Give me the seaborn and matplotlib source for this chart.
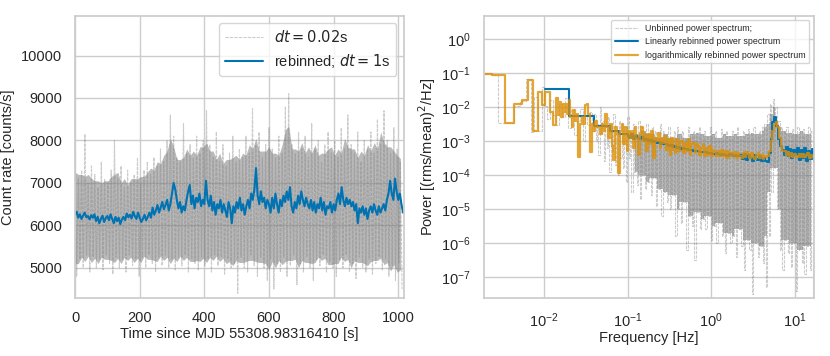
import numpy as np
import pandas as pd
import seaborn as sns
import matplotlib
matplotlib.use("Agg")
import matplotlib.pyplot as plt

# ---- light curve (left) ----
# 1 s rebinned count rate, one value every 5 s starting at t=0
lc_step = 5
lc_rebinned = [
    6250, 6320, 6180, 6260, 6150, 6230, 6300, 6190, 6220, 6140,
    6240, 6180, 6260, 6100, 6200, 6050, 6150, 6230, 6080, 6170,
    6220, 6120, 6260, 6150, 6050, 6200, 6100, 6180, 6030, 6140,
    6200, 6120, 6280, 6190, 6250, 6160, 6320, 6220, 6150, 6300,
    6180, 6080, 6150, 6250, 6120, 6200, 6300, 6180, 6420, 6250,
    6350, 6480, 6300, 6420, 6550, 6380, 6480, 6600, 6350, 6500,
    6750, 7000, 6850, 6600, 6400, 6550, 6300, 6450, 6350, 6600,
    6800, 6950, 6500, 6700, 6400, 6650, 6550, 6750, 6450, 6600,
    6500, 7050, 6600, 6450, 6700, 6350, 6550, 6250, 6500, 6400,
    6600, 6300, 6500, 6350, 6200, 6550, 6400, 6050, 6450, 6300,
    6550, 6400, 6650, 6350, 6500, 6250, 6450, 6600, 6400, 6750,
    6600, 6850, 7350, 6700, 6500, 6800, 6550, 6650, 6400, 6600,
    6500, 6300, 6650, 6400, 6750, 6500, 6300, 6600, 6450, 6700,
    6550, 6800, 6600, 6900, 6450, 6300, 6550, 6400, 6700, 6500,
    6800, 6600, 6450, 6650, 6500, 6400, 6600, 6350, 6550, 6300,
    6500, 6400, 6650, 6350, 6550, 6250, 6450, 6400, 6550, 6300,
    6500, 6350, 6600, 6750, 6500, 6900, 6600, 6450, 6650, 6500,
    6600, 6450, 6550, 6350, 6500, 6050, 6400, 6300, 6450, 6250,
    6400, 6150, 6350, 6450, 6300, 6500, 6350, 6250, 6450, 6300,
    6400, 6500, 6350, 6600, 6750, 7050, 6750, 6600, 7100, 6800,
    6600, 6750, 6500, 6300,
]

# dt=0.02 s curve: spike tops / bottoms of the dense band (100 samples over 0-1017 s)
lc_tmax = 1017
lc_raw_top = [
    7700, 7100, 7300, 8150, 7000, 7400, 7200, 6900, 7500, 7100,
    7000, 7300, 8000, 7100, 7400, 6900, 7300, 7000, 7200, 7600,
    7000, 7300, 7500, 7200, 7600, 7400, 7800, 7500, 8000, 8600,
    8100, 7600, 7500, 8400, 7700, 7900, 7600, 8100, 7700, 8000,
    8700, 7900, 7600, 8200, 7500, 7900, 7400, 7700, 8100, 7500,
    7800, 7600, 8100, 7700, 8750, 7900, 8200, 7600, 7900, 8300,
    7800, 7600, 8100, 7700, 8800, 9100, 7900, 7700, 8200, 7800,
    8100, 7600, 8400, 7800, 8000, 7500, 7900, 8200, 7700, 8000,
    7600, 8300, 7800, 8600, 7900, 7700, 8200, 7500, 8000, 7800,
    8200, 7700, 8500, 7900, 8700, 8000, 7700, 8300, 7800, 7500,
]
lc_raw_bottom = [
    4800, 5200, 5000, 5300, 4900, 5250, 5000, 5200, 4950, 5300,
    5100, 4850, 5250, 5000, 5200, 4900, 5300, 5050, 5200, 4800,
    5250, 5000, 5300, 5100, 4900, 5250, 5050, 5300, 5000, 5200,
    4950, 5250, 5050, 5300, 4900, 5200, 5100, 4950, 5250, 5050,
    5200, 4900, 5300, 5050, 5250, 4850, 5200, 5000, 5100, 4400,
    5250, 5000, 4900, 5300, 5050, 4800, 5250, 5000, 4700, 5200,
    4500, 5100, 4900, 5250, 4800, 5050, 5300, 4600, 5100, 4900,
    5250, 5000, 4700, 5200, 5050, 5300, 4900, 5150, 5000, 4800,
    5200, 5000, 5300, 4900, 5100, 4750, 5250, 5000, 4900, 5200,
    4850, 5100, 5250, 4950, 5200, 4800, 5050, 4700, 5100, 4500,
]

# ---- power spectrum (right) ----
# unbinned spectrum below 0.04 Hz (step values)
ps_low_freq = [0.00196, 0.00239, 0.00287, 0.00339, 0.00441, 0.00520, 0.00610,
               0.00700, 0.00760, 0.00848, 0.00946, 0.0100, 0.0108, 0.0119,
               0.0128, 0.0139, 0.0150, 0.0165, 0.0180, 0.0195, 0.0210, 0.0230,
               0.0250, 0.0270, 0.0290, 0.0310, 0.0330, 0.0355, 0.0380]
ps_low_power = [0.095, 0.087, 3.5e-3, 3.5e-3, 0.011, 0.015, 0.068, 1.9e-3,
                0.020, 2.0e-3, 0.040, 0.011, 4.5e-3, 0.016, 6.0e-3, 3.0e-3,
                0.012, 5.0e-3, 0.018, 2.5e-3, 8e-3, 1.5e-3, 4e-3, 9e-3, 1e-3,
                6e-3, 3e-3, 7e-3, 2e-3]
# unbinned spectrum 0.04-17 Hz: log10 of spike tops / bottoms (80 log-spaced samples)
ps_fmin, ps_fmax = 0.04, 16.9
ps_top_log = [
    -2.2, -2.5, -2.0, -2.4, -2.6, -2.3, -2.5, -2.2, -2.7, -2.4,
    -2.5, -2.6, -2.3, -2.7, -2.5, -2.8, -2.4, -2.6, -2.7, -2.5,
    -2.8, -2.6, -2.7, -2.9, -2.5, -2.7, -2.8, -2.6, -2.9, -2.7,
    -2.6, -2.8, -2.7, -2.9, -2.6, -2.8, -2.7, -2.75, -2.6, -2.8,
    -2.7, -2.85, -2.6, -2.8, -2.7, -2.9, -2.65, -2.8, -2.7, -2.85,
    -2.7, -2.8, -2.6, -2.85, -2.7, -2.8, -2.65, -2.75, -2.6, -2.8,
    -2.7, -2.6, -2.5, -2.2, -1.9, -1.75, -2.0, -2.4, -2.6, -2.7,
    -2.6, -2.75, -2.65, -2.8, -2.6, -2.7, -2.65, -2.8, -2.6, -2.7,
]
ps_bottom_log = [
    -3.0, -3.4, -2.8, -3.6, -3.2, -3.9, -3.3, -3.7, -4.0, -3.5,
    -3.8, -4.2, -3.5, -4.5, -3.9, -4.3, -4.7, -4.0, -4.4, -4.2,
    -4.6, -4.1, -4.9, -4.4, -5.2, -4.5, -4.8, -5.0, -4.6, -5.8,
    -5.0, -5.4, -4.8, -6.2, -5.2, -5.5, -6.5, -5.1, -5.6, -5.3,
    -5.6, -5.2, -5.9, -5.5, -6.0, -5.4, -5.8, -6.3, -5.7, -6.0,
    -5.8, -6.4, -5.6, -6.1, -6.8, -5.9, -6.2, -7.5, -6.0, -6.4,
    -6.1, -6.6, -7.3, -5.8, -4.5, -3.8, -5.0, -6.2, -6.8, -5.9,
    -6.3, -6.7, -6.0, -7.4, -6.2, -6.6, -6.9, -6.1, -6.8, -7.6,
]
ps_fill_from = 0.12  # below this the unbinned spectrum is sparse, no solid band

# linearly rebinned spectrum: wide low-frequency bins, then log10 values 0.1-17 Hz
lin_low_freq = [0.0103, 0.020, 0.0395, 0.0616, 0.080]
lin_low_power = [0.034, 5.5e-3, 2.8e-3, 2.0e-3, 1.6e-3]
lin_fmin = 0.1
lin_log = [
    -2.85, -2.9, -2.8, -2.95, -2.85, -2.9, -2.95, -2.88, -2.92, -2.97,
    -2.95, -3.0, -2.97, -3.02, -3.0, -3.05, -3.03, -3.08, -3.06, -3.1,
    -3.1, -3.12, -3.15, -3.13, -3.17, -3.16, -3.2, -3.18, -3.22, -3.21,
    -3.24, -3.22, -3.26, -3.27, -3.25, -3.29, -3.3, -3.28, -3.31, -3.32,
    -3.33, -3.31, -3.35, -3.36, -3.34, -3.37, -3.38, -3.36, -3.39, -3.4,
    -3.38, -3.41, -3.4, -3.43, -3.39, -3.42, -3.44, -3.4, -3.43, -3.45,
    -3.4, -3.52, -3.38, -3.55, -3.42, -3.5, -3.58, -3.4, -3.53, -3.56,
    -3.45, -3.6, -3.5, -3.58, -3.62, -3.35, -2.95, -2.45, -2.28, -2.55,
    -2.95, -3.15, -3.25, -3.4, -3.18, -3.45, -3.22, -3.5, -3.25, -3.42,
    -3.2, -3.55, -3.25, -3.5, -3.2, -3.6, -3.3, -3.52, -3.22, -3.62,
]

# logarithmically rebinned spectrum: wide low-frequency bins, then log10 values 0.018-17 Hz
log_low_freq = [0.00196, 0.00239, 0.00339, 0.00441, 0.00546, 0.00644, 0.00732,
                0.00848, 0.00946, 0.01037, 0.0119, 0.0128, 0.0139, 0.0146,
                0.0153, 0.0160, 0.0168, 0.0174]
log_low_power = [0.095, 0.087, 3.5e-3, 0.012, 0.016, 0.063, 2.0e-3, 0.027,
                 0.0115, 0.027, 7.3e-3, 3.0e-3, 0.018, 6e-3, 0.014, 5e-3,
                 0.012, 7e-3]
logbin_fmin = 0.018
logbin_log = [
    -1.9, -2.2, -1.8, -2.3, -2.6, -2.1, -2.4, -2.2, -3.46, -2.5,
    -2.3, -2.5, -1.95, -1.91, -2.2, -3.32, -2.5, -2.7, -2.4, -2.6,
    -2.6, -2.8, -2.5, -2.7, -2.2, -2.6, -2.9, -2.5, -3.15, -3.55,
    -2.6, -2.8, -3.95, -2.7, -2.5, -3.1, -2.6, -3.3, -2.7, -2.9,
    -2.7, -3.2, -2.6, -2.9, -3.4, -2.75, -2.6, -3.0, -2.8, -3.3,
    -2.8, -3.1, -2.7, -3.5, -2.9, -3.0, -2.75, -3.2, -2.9, -3.05,
    -2.85, -3.25, -2.95, -3.4, -2.9, -3.25, -3.35, -2.95, -3.3, -3.0,
    -3.0, -3.35, -3.05, -3.3, -2.95, -3.4, -3.1, -3.05, -3.35, -3.1,
    -3.15, -3.4, -3.2, -3.1, -3.45, -3.2, -3.4, -3.15, -3.45, -3.25,
    -3.3, -3.45, -3.3, -3.45, -3.25, -3.45, -3.3, -3.5, -3.3, -3.45,
    -3.35, -3.45, -3.32, -3.5, -3.35, -3.45, -3.5, -3.35, -3.48, -3.33,
    -3.38, -3.5, -3.36, -3.47, -3.52, -3.4, -3.36, -3.5, -3.4, -3.52,
    -3.45, -3.48, -3.44, -3.3, -3.0, -2.7, -2.5, -2.43, -2.6, -2.9,
    -3.15, -3.3, -3.3, -3.42, -3.33, -3.45, -3.35, -3.47, -3.38, -3.43,
    -3.47, -3.37, -3.48, -3.38, -3.47, -3.4, -3.36, -3.5, -3.4, -3.47,
    -3.43,
]


def zigzag(x0, x1, top, bottom, log=False):
    # alternate top/bottom samples so the dense curve renders as a band
    n = len(top)
    if log:
        xs = np.geomspace(x0, x1, n + 1)
        mid = np.sqrt(xs[:-1] * xs[1:])
    else:
        xs = np.linspace(x0, x1, n + 1)
        mid = 0.5 * (xs[:-1] + xs[1:])
    x = np.empty(2 * n)
    y = np.empty(2 * n)
    x[0::2] = xs[:-1]
    x[1::2] = mid
    y[0::2] = top
    y[1::2] = bottom
    return x, y, xs[:-1]


def core(top, bottom, soft=False):
    # solid part of the band: where neighbouring samples overlap
    t = pd.Series(top).rolling(3, center=True, min_periods=1)
    b = pd.Series(bottom).rolling(3, center=True, min_periods=1)
    hi, lo = t.min().values, b.max().values
    if soft:
        hi = 0.5 * (hi + t.median().values)
        lo = 0.5 * (lo + b.median().values)
    return hi, lo


sns.set_theme(style="whitegrid", palette="colorblind")
plt.rcParams["font.family"] = ["Liberation Sans", "DejaVu Sans"]
plt.rcParams["font.size"] = 10
plt.rcParams["axes.labelsize"] = 10.5
plt.rcParams["xtick.labelsize"] = 10.5
plt.rcParams["ytick.labelsize"] = 10.5

pal = sns.color_palette("colorblind")
blue, orange = pal[0], pal[1]

fig = plt.figure(figsize=(8.3, 3.56), dpi=100)
ax1 = fig.add_axes([0.0904, 0.163, 0.396, 0.792])
ax2 = fig.add_axes([0.583, 0.163, 0.3976, 0.792])

# left panel
tx, ty, tgrid = zigzag(0, lc_tmax, lc_raw_top, lc_raw_bottom)
c_hi, c_lo = core(lc_raw_top, lc_raw_bottom, soft=True)
ax1.fill_between(tgrid, c_lo, c_hi, color="grey", alpha=0.55, lw=0)
sns.lineplot(x=tx, y=ty, ax=ax1, color="grey", alpha=0.4, lw=0.8,
             linestyle=(0, (3, 1)), sort=False, estimator=None,
             label="$dt = 0.02$s")
t_reb = np.arange(len(lc_rebinned)) * lc_step
sns.lineplot(x=t_reb, y=lc_rebinned, ax=ax1, color=blue, lw=1.5,
             sort=False, estimator=None, label="rebinned; $dt = 1$s")
ax1.set_xlim(0, lc_tmax)
ax1.set_ylim(4290, 10930)
ax1.set_xticks([0, 200, 400, 600, 800, 1000])
ax1.set_yticks([5000, 6000, 7000, 8000, 9000, 10000])
ax1.set_xlabel("Time since MJD 55308.98316410 [s]", labelpad=1)
ax1.set_ylabel("Count rate [counts/s]")
ax1.legend(loc="upper right", fontsize=10.5, handlelength=2.6)

# right panel
fz, pz, fgrid = zigzag(ps_fmin, ps_fmax, ps_top_log, ps_bottom_log, log=True)
p_hi, p_lo = core(ps_top_log, ps_bottom_log)
dense = fgrid >= ps_fill_from
ax2.fill_between(fgrid[dense], 10.0 ** p_lo[dense], 10.0 ** p_hi[dense],
                 color="grey", alpha=0.55, lw=0, step="post")
grey_f = np.concatenate([ps_low_freq, fz])
grey_p = np.concatenate([ps_low_power, 10.0 ** pz])
sns.lineplot(x=grey_f, y=grey_p, ax=ax2, color="grey", alpha=0.4, lw=0.8,
             linestyle=(0, (3, 1)), drawstyle="steps-post", sort=False,
             estimator=None, label="Unbinned power spectrum;")

lin_f = np.concatenate([lin_low_freq, np.geomspace(lin_fmin, ps_fmax, len(lin_log))])
lin_p = np.concatenate([lin_low_power, 10.0 ** np.array(lin_log)])
sns.lineplot(x=lin_f, y=lin_p, ax=ax2, color=blue, lw=1.5,
             drawstyle="steps-post", sort=False, estimator=None,
             label="Linearly rebinned power spectrum")

lg_f = np.concatenate([log_low_freq, np.geomspace(logbin_fmin, ps_fmax, len(logbin_log))])
lg_p = np.concatenate([log_low_power, 10.0 ** np.array(logbin_log)])
sns.lineplot(x=lg_f, y=lg_p, ax=ax2, color=orange, alpha=0.8, lw=1.6,
             drawstyle="steps-post", sort=False, estimator=None,
             label="logarithmically rebinned power spectrum")

ax2.set_xscale("log")
ax2.set_yscale("log")
ax2.set_xlim(0.00192, 16.9)
ax2.set_ylim(2.4e-8, 4.8)
ax2.set_xlabel("Frequency [Hz]", labelpad=1)
ax2.set_ylabel("Power [(rms/mean)$^2$/Hz]", labelpad=2)
ax2.legend(loc="upper right", fontsize=6.4, handlelength=2.6)

fig.savefig("out.png", dpi=100)
